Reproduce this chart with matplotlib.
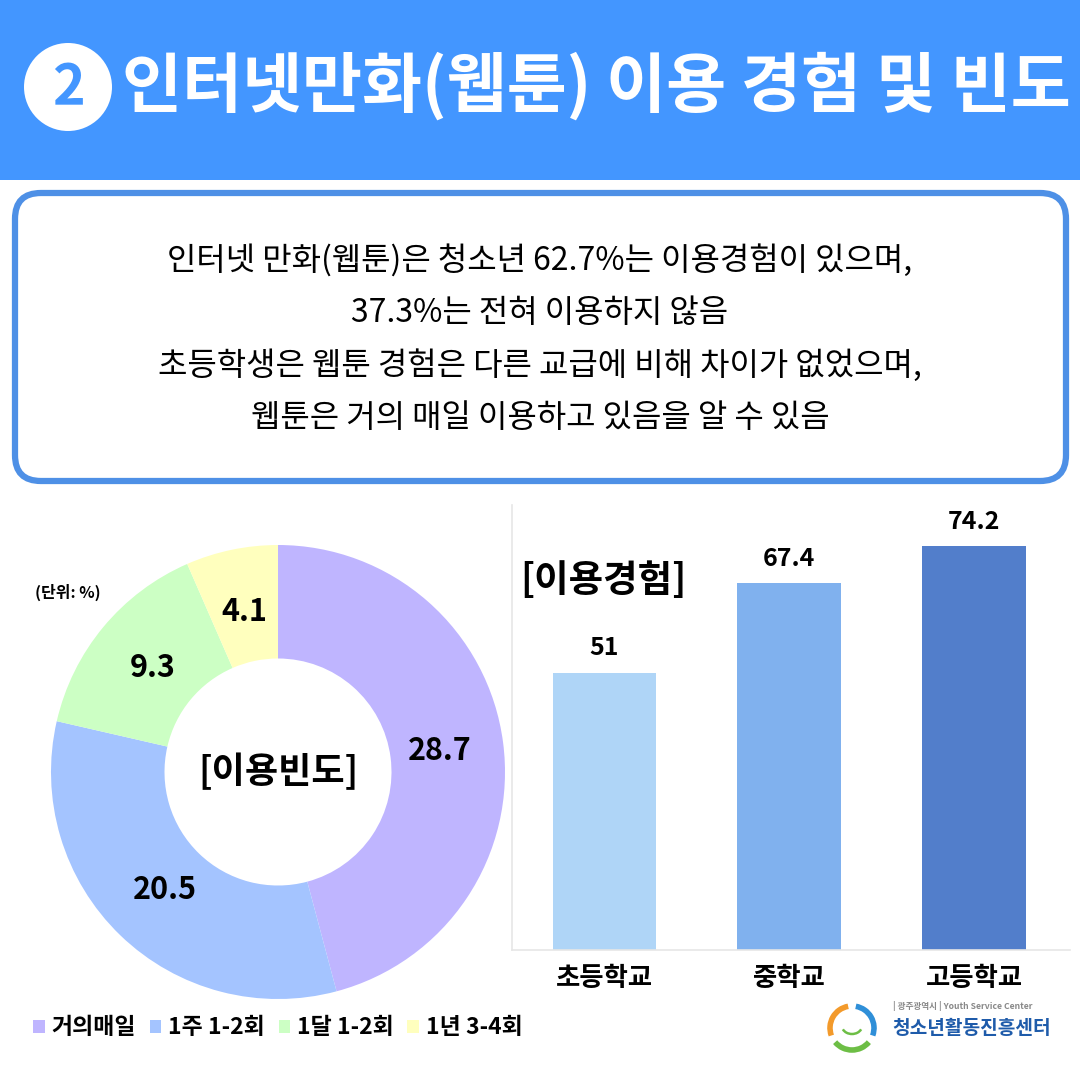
import matplotlib
matplotlib.use("Agg")
import matplotlib.pyplot as plt
from matplotlib.patches import Rectangle, Circle, FancyBboxPatch, Patch, Arc
import numpy as np

plt.rcParams['font.family'] = ['Noto Sans CJK KR', 'DejaVu Sans']

# ---------------- data ----------------
title = "인터넷만화(웹툰) 이용 경험 및 빈도"
title_num = "2"
summary_lines = [
    "인터넷 만화(웹툰)은 청소년 62.7%는 이용경험이 있으며,",
    "37.3%는 전혀 이용하지 않음",
    "초등학생은 웹툰 경험은 다른 교급에 비해 차이가 없었으며,",
    "웹툰은 거의 매일 이용하고 있음을 알 수 있음",
]
freq_labels = ["거의매일", "1주 1-2회", "1달 1-2회", "1년 3-4회"]
freq_values = [28.7, 20.5, 9.3, 4.1]
freq_colors = ["#BFB5FF", "#A4C4FF", "#CCFFC4", "#FFFFBE"]

school_labels = ["초등학교", "중학교", "고등학교"]
school_values = [51, 67.4, 74.2]
school_colors = ["#AFD5F7", "#80B1EE", "#527ECB"]

W = 1080.0
fig = plt.figure(figsize=(10.8, 10.8), dpi=100)
fig.patch.set_facecolor("white")

def fx(px):
    return px / W

def fy(py):
    return 1 - py / W

# ---------------- header ----------------
fig.patches.append(Rectangle((0, fy(180)), 1, 180 / W, transform=fig.transFigure,
                             facecolor="#4396FF", edgecolor="none", zorder=0))
fig.patches.append(Circle((fx(68), fy(87)), 44 / W, transform=fig.transFigure,
                          facecolor="white", edgecolor="none", zorder=1))
fig.text(fx(68), fy(88), title_num, ha="center", va="center", color="#4396FF",
         fontsize=40, fontweight="bold")
fig.text(fx(122), fy(86), title, ha="left", va="center", color="white",
         fontsize=47, fontweight="bold")

# ---------------- summary box ----------------
fig.patches.append(FancyBboxPatch((fx(15), fy(481)), (1066 - 15) / W, (481 - 193) / W,
                                  boxstyle="round,pad=0,rounding_size=0.024",
                                  transform=fig.transFigure, facecolor="white",
                                  edgecolor="#4E90E6", linewidth=4.5, zorder=1))
for yy, line in zip([261, 313, 366, 418], summary_lines):
    fig.text(0.5, fy(yy), line, ha="center", va="center", color="black",
             fontsize=23)

# ---------------- donut ----------------
cx, cy, R = 278, 772, 227
axd = fig.add_axes([fx(cx - R), fy(cy + R), 2 * R / W, 2 * R / W])
total = sum(freq_values)
wedges, texts, autotexts = axd.pie(
    freq_values, colors=freq_colors, startangle=90, counterclock=False,
    radius=1.0, wedgeprops=dict(width=0.5, edgecolor="none"),
    autopct=lambda p: f"{p * total / 100:.1f}", pctdistance=0.72,
    textprops=dict(fontsize=22, color="black", fontweight="bold"))
axd.set_xlim(-1, 1)
axd.set_ylim(-1, 1)
axd.set_aspect("equal")
axd.axis("off")
axd.text(0, 0, "[이용빈도]", ha="center", va="center", fontsize=26,
         fontweight="bold", color="black")
fig.text(fx(35), fy(592), "(단위: %)", ha="left", va="center", fontsize=11.5,
         fontweight="bold", color="black")

# legend
handles = [Patch(facecolor=c, edgecolor="none") for c in freq_colors]
leg = fig.legend(handles, freq_labels, loc="center left",
                 bbox_to_anchor=(fx(24), fy(1028)), ncol=4, frameon=False,
                 handlelength=0.5, handleheight=0.5,
                 handletextpad=0.3, columnspacing=0.6, borderaxespad=0,
                 prop=dict(weight="bold", size=16.5))

# ---------------- bars ----------------
axb = fig.add_axes([fx(512), fy(950), (1070 - 512) / W, (950 - 505) / W])
x = np.arange(len(school_values))
bars = axb.bar(x, school_values, width=0.56, color=school_colors)
axb.set_xlim(-0.5, 2.52)
axb.set_ylim(0, 81.8)
for s in ["top", "right"]:
    axb.spines[s].set_visible(False)
for s in ["left", "bottom"]:
    axb.spines[s].set_color("#E6E6E6")
    axb.spines[s].set_linewidth(1.2)
axb.set_yticks([])
axb.set_xticks(x)
axb.set_xticklabels(school_labels, fontsize=19, fontweight="bold")
axb.tick_params(axis="x", length=0, pad=11)
for b, v in zip(bars, school_values):
    axb.annotate(f"{v:g}", (b.get_x() + b.get_width() / 2, v),
                 xytext=(0, 9), textcoords="offset points", ha="center",
                 va="bottom", fontsize=18, fontweight="bold")
axb.text(0.014, 0.83, "[이용경험]", transform=axb.transAxes, ha="left",
         va="center", fontsize=27, fontweight="bold")

# ---------------- logo ----------------
lc = (852, 1028)
fig.patches.append(Arc((fx(lc[0]), fy(lc[1])), 44 / W, 44 / W, theta1=100, theta2=200,
                       transform=fig.transFigure, color="#F39A2B", linewidth=4))
fig.patches.append(Arc((fx(lc[0]), fy(lc[1])), 44 / W, 44 / W, theta1=-20, theta2=80,
                       transform=fig.transFigure, color="#2F8FD8", linewidth=4))
fig.patches.append(Arc((fx(lc[0]), fy(lc[1])), 44 / W, 44 / W, theta1=220, theta2=320,
                       transform=fig.transFigure, color="#6DBE45", linewidth=4))
fig.patches.append(Arc((fx(lc[0]), fy(lc[1] - 2)), 20 / W, 16 / W, theta1=200, theta2=340,
                       transform=fig.transFigure, color="#6DBE45", linewidth=1.8))
fig.text(fx(893), fy(1006), "| 광주광역시 | Youth Service Center", ha="left",
         va="center", fontsize=6.2, color="#888888", fontweight="bold")
fig.text(fx(892), fy(1029), "청소년활동진흥센터", ha="left", va="center",
         fontsize=13.8, color="#1E5BAA", fontweight="bold")

fig.savefig("out.png", dpi=100, facecolor="white")
